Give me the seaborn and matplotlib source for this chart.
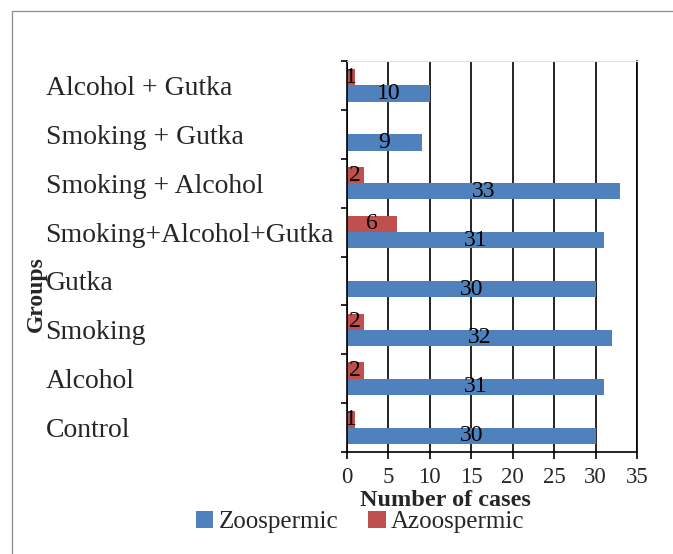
import numpy as np
import pandas as pd
import matplotlib
matplotlib.use("Agg")
import matplotlib.pyplot as plt
from matplotlib.patches import Patch, Rectangle
import seaborn as sns

categories = ["Alcohol + Gutka", "Smoking + Gutka", "Smoking + Alcohol",
              "Smoking+Alcohol+Gutka", "Gutka", "Smoking", "Alcohol", "Control"]
zoospermic = [10, 9, 33, 31, 30, 32, 31, 30]
azoospermic = [1, np.nan, 2, 6, np.nan, 2, 2, 1]
x_ticks = [0, 5, 10, 15, 20, 25, 30, 35]
series_names = ["Zoospermic", "Azoospermic"]
colors = {"Zoospermic": "#4F81BD", "Azoospermic": "#C0504D"}

df = pd.DataFrame({
    "Group": categories * 2,
    "Cases": zoospermic + azoospermic,
    "Type": ["Zoospermic"] * len(categories) + ["Azoospermic"] * len(categories),
})

sns.set_style("white")
plt.rcParams["font.family"] = ["Liberation Serif", "DejaVu Serif"]

fig = plt.figure(figsize=(6.73, 5.54), dpi=100)
ax = fig.add_axes([347 / 673, 1 - 452 / 554, (637 - 347) / 673, (452 - 61) / 554])

sns.barplot(data=df, y="Group", x="Cases", hue="Type",
            hue_order=["Azoospermic", "Zoospermic"], order=categories,
            palette=colors, orient="h", width=2 / 3, saturation=1,
            legend=False, ax=ax, errorbar=None, linewidth=0)

for c in ax.containers:
    labels = ["" if (v is None or np.isnan(v)) else f"{v:g}" for v in c.datavalues]
    ax.bar_label(c, labels=labels, label_type="center", fontsize=17, color="black")

ax.set_xlim(0, 35)
ax.set_xticks(x_ticks)
ax.set_xticklabels([str(t) for t in x_ticks], fontsize=16.5)
ax.set_ylim(len(categories) - 0.5, -0.5)
ax.set_yticks(range(len(categories)))
ax.set_yticklabels(categories, fontsize=20)
ax.set_yticks(np.arange(-0.5, len(categories), 1.0), minor=True)
ax.tick_params(axis="y", which="major", length=0, pad=217)
for lab in ax.get_yticklabels():
    lab.set_horizontalalignment("left")
ax.tick_params(axis="y", which="minor", left=True, length=4.5, width=1.2, color="black")
ax.tick_params(axis="x", which="major", bottom=True, length=5, width=1.2, color="black", pad=6)
ax.set_xlabel("")
ax.set_ylabel("")

ax.xaxis.grid(True, color="black", linewidth=1.2)
ax.yaxis.grid(False)
ax.set_axisbelow(True)
for s in ["left", "bottom", "right"]:
    ax.spines[s].set_color("black")
    ax.spines[s].set_linewidth(1.2)
ax.spines["top"].set_color("#e0e0e0")
ax.spines["top"].set_linewidth(0.8)

fig.text(445 / 673, 1 - 501 / 554, "Number of cases", fontsize=17.5, fontweight="bold",
         ha="center", va="center")
fig.text(36 / 673, 1 - 294 / 554, "Groups", fontsize=17, fontweight="bold",
         rotation=90, ha="center", va="center")

handles = [Patch(facecolor=colors[n], edgecolor="none", label=n) for n in series_names]
fig.legend(handles=handles, loc="center", bbox_to_anchor=(360 / 673, 1 - 522 / 554),
           ncol=2, frameon=False, fontsize=18, handlelength=0.7, handleheight=0.7,
           handletextpad=0.2, columnspacing=1.2, borderaxespad=0, borderpad=0)

fig.add_artist(Rectangle((12 / 673, -0.1), 1.2, 1.1 - 11 / 554, transform=fig.transFigure,
                         fill=False, edgecolor="#8a8a8a", linewidth=0.9))

fig.savefig("out.png", dpi=100)
